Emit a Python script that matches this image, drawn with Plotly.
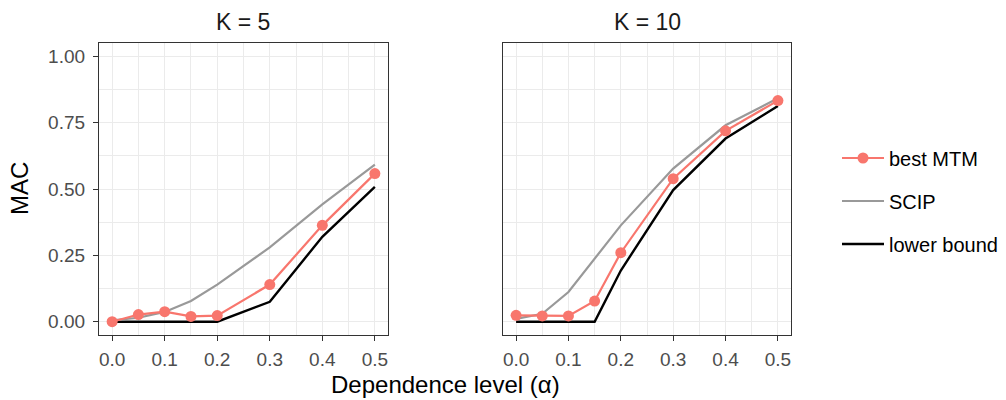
import plotly.graph_objects as go

alpha = [0.0, 0.05, 0.1, 0.15, 0.2, 0.3, 0.4, 0.5]

k5_mtm = [0.0, 0.027, 0.038, 0.020, 0.023, 0.140, 0.363, 0.558]
k5_scip = [0.005, 0.015, 0.037, 0.078, 0.140, 0.280, 0.442, 0.592]
k5_lb = [0.0, 0.0, 0.0, 0.0, 0.0, 0.075, 0.320, 0.508]

k10_mtm = [0.024, 0.022, 0.022, 0.078, 0.260, 0.539, 0.719, 0.833]
k10_scip = [0.011, 0.030, 0.112, 0.236, 0.363, 0.577, 0.740, 0.842]
k10_lb = [0.0, 0.0, 0.0, 0.0, 0.193, 0.496, 0.690, 0.813]

panel_titles = ["K = 5", "K = 10"]
series_names = ["best MTM", "SCIP", "lower bound"]
x_ticks = [0.0, 0.1, 0.2, 0.3, 0.4, 0.5]
y_ticks = [0.0, 0.25, 0.5, 0.75, 1.0]

RED = "#F8766D"
GRAY = "#999999"
BLACK = "#000000"
FONT = "Liberation Sans, Arial, sans-serif"
TICK_SIZE = 19
TITLE_SIZE = 24

W, H = 1006, 400
fig = go.Figure()

panels = [(k5_mtm, k5_scip, k5_lb, "x", "y"), (k10_mtm, k10_scip, k10_lb, "x2", "y2")]
for i, (mtm, scip, lb, xa, ya) in enumerate(panels):
    show = i == 0
    fig.add_trace(go.Scatter(x=alpha, y=lb, mode="lines", name=series_names[2],
                             line=dict(color=BLACK, width=2.4), xaxis=xa, yaxis=ya,
                             showlegend=show, legendgroup="c", legendrank=3))
    fig.add_trace(go.Scatter(x=alpha, y=scip, mode="lines", name=series_names[1],
                             line=dict(color=GRAY, width=2.2), xaxis=xa, yaxis=ya,
                             showlegend=show, legendgroup="b", legendrank=2))
    fig.add_trace(go.Scatter(x=alpha, y=mtm, mode="lines+markers", name=series_names[0],
                             line=dict(color=RED, width=2.2), marker=dict(color=RED, size=11),
                             xaxis=xa, yaxis=ya, showlegend=show, legendgroup="a", legendrank=1))

grid = "#EBEBEB"
xcommon = dict(range=[-0.025, 0.525], tickvals=x_ticks, tickformat=".1f",
               showgrid=True, gridcolor=grid, gridwidth=1.4,
               minor=dict(dtick=0.05, tick0=0, showgrid=True, gridcolor=grid, gridwidth=0.8, ticks=""),
               showline=True, mirror=True, linecolor="#333333", linewidth=1.3,
               ticks="outside", ticklen=5, tickcolor="#333333", tickwidth=1.3,
               ticklabelstandoff=2,
               tickfont=dict(family=FONT, size=TICK_SIZE, color="#4D4D4D"), zeroline=False,
               fixedrange=True)
ycommon = dict(range=[-0.05, 1.05], tickvals=y_ticks, tickformat=".2f",
               showgrid=True, gridcolor=grid, gridwidth=1.4,
               minor=dict(dtick=0.125, tick0=0, showgrid=True, gridcolor=grid, gridwidth=0.8, ticks=""),
               showline=True, mirror=True, linecolor="#333333", linewidth=1.3,
               tickfont=dict(family=FONT, size=TICK_SIZE, color="#4D4D4D"), zeroline=False,
               fixedrange=True)

ydom = [1 - 335 / H, 1 - 43 / H]
x1dom = [99 / W, 388 / W]
x2dom = [503 / W, 791 / W]

fig.update_layout(
    width=W, height=H,
    margin=dict(l=0, r=0, t=0, b=0),
    paper_bgcolor="white", plot_bgcolor="white",
    xaxis=dict(domain=x1dom, anchor="y", **xcommon),
    yaxis=dict(domain=ydom, anchor="x", ticks="outside", ticklen=5, tickcolor="#333333",
               tickwidth=1.3, ticklabelstandoff=4, **ycommon),
    xaxis2=dict(domain=x2dom, anchor="y2", **xcommon),
    yaxis2=dict(domain=ydom, anchor="x2", showticklabels=False, ticks="", **ycommon),
    showlegend=True,
    legend=dict(x=837 / W, y=1 - 201 / H, xanchor="left", yanchor="middle", itemwidth=42,
                font=dict(family=FONT, size=20, color="#000000"),
                tracegroupgap=14, traceorder="grouped", bgcolor="rgba(0,0,0,0)"),
    font=dict(family=FONT),
)

for i, t in enumerate(panel_titles):
    dom = x1dom if i == 0 else x2dom
    fig.add_annotation(text=t, x=(dom[0] + dom[1]) / 2, y=1 - 22 / H, xref="paper", yref="paper",
                       showarrow=False, font=dict(family=FONT, size=23, color="#1A1A1A"),
                       xanchor="center", yanchor="middle")

fig.add_annotation(text="Dependence level (α)", x=(x1dom[0] + x2dom[1]) / 2, y=1 - 384 / H,
                   xref="paper", yref="paper", showarrow=False,
                   font=dict(family=FONT, size=TITLE_SIZE, color="#000000"), xanchor="center", yanchor="middle")
fig.add_annotation(text="MAC", x=20 / W, y=1 - 189 / H, xref="paper", yref="paper",
                   showarrow=False, textangle=-90,
                   font=dict(family=FONT, size=TITLE_SIZE, color="#000000"), xanchor="center", yanchor="middle")

fig.write_html("out.html", config={"displayModeBar": False},
               post_script="document.body.style.margin='0px';document.body.style.overflow='hidden';")
